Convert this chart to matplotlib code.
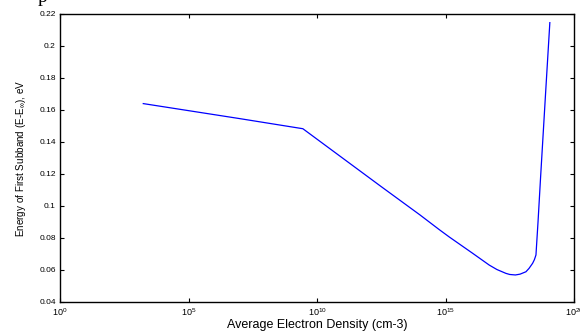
import matplotlib
matplotlib.use("Agg")
import matplotlib.pyplot as plt
import numpy as np

plt.rcParams['font.family'] = ['Liberation Sans', 'DejaVu Sans']
plt.rcParams['mathtext.fontset'] = 'custom'
plt.rcParams['mathtext.rm'] = 'Liberation Sans'
plt.rcParams['mathtext.it'] = 'Liberation Sans'

# log10 of average electron density (cm^-3)
log_density = [3.24, 5.0, 7.0, 9.45, 11.0, 12.5, 14.0, 14.76, 15.15, 16.06, 16.7,
               17.0, 17.35, 17.5, 17.72, 17.9, 18.13, 18.25, 18.39, 18.46, 18.52,
               18.6, 18.7, 18.8, 18.9, 19.06]
energy = [0.164, 0.1596, 0.1546, 0.1483, 0.1299, 0.1121, 0.0945, 0.0852, 0.0806,
          0.0704, 0.0631, 0.0603, 0.0579, 0.0572, 0.0569, 0.0574, 0.0589, 0.0610,
          0.0642, 0.0665, 0.0694, 0.0900, 0.1180, 0.1450, 0.1720, 0.2146]

xticks_exp = [0, 5, 10, 15, 20]
yticks = [0.04, 0.06, 0.08, 0.1, 0.12, 0.14, 0.16, 0.18, 0.2, 0.22]
ytick_labels = ['0.04', '0.06', '0.08', '0.1', '0.12', '0.14', '0.16', '0.18', '0.2', '0.22']

fig = plt.figure(figsize=(5.8, 3.33), dpi=100)
ax = fig.add_axes([60/580, 1-302/333, (574-60)/580, (302-14)/333])

density = [10.0**v for v in log_density]
ax.plot(density, energy, color='#0000ff', linewidth=0.9)

ax.set_xscale('log')
ax.set_xlim(1e0, 1e20)
ax.set_ylim(0.04, 0.22)
ax.set_xticks([10.0**e for e in xticks_exp])
ax.set_xticklabels([r'$\mathregular{10^{%d}}$' % e for e in xticks_exp], fontsize=6.5)
ax.xaxis.set_minor_locator(matplotlib.ticker.NullLocator())
ax.set_yticks(yticks)
ax.set_yticklabels(ytick_labels, fontsize=6)
ax.tick_params(direction='in', length=3, width=0.8, top=True, right=True, pad=3)
for s in ax.spines.values():
    s.set_linewidth(1.0)

ax.set_xlabel('Average Electron Density (cm-3)', fontsize=9, labelpad=1)
ax.set_ylabel(r'Energy of First Subband (E-E$_{\infty}$), eV', fontsize=7.1, labelpad=8)

fig.text(38/580, 1.0 + 2/333, 'p', family='Liberation Serif', fontsize=14, va='center', ha='left')

fig.savefig('out.png', dpi=100)
